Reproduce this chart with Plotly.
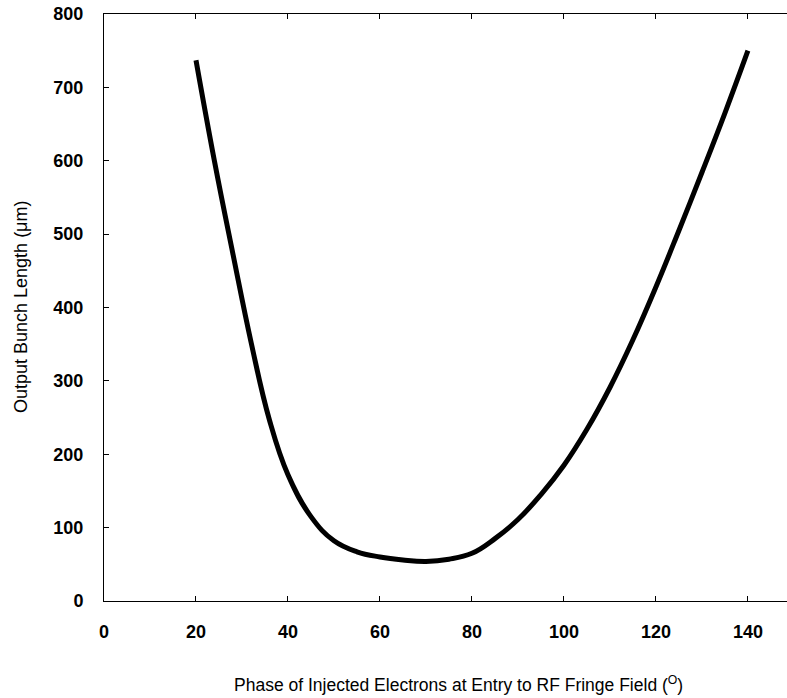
import plotly.graph_objects as go

phase_deg = [20, 24, 28, 32, 36, 40, 45, 50, 55, 60, 65, 70, 75, 80, 85, 90, 95,
             100, 105, 110, 115, 120, 125, 130, 135, 140]
bunch_len_um = [737, 600, 474, 352, 246, 172, 115, 82, 67, 60, 56, 54, 57, 65, 85,
                111, 145, 185, 234, 291, 356, 428, 505, 584, 665, 750]

x_ticks = [0, 20, 40, 60, 80, 100, 120, 140]
y_ticks = [0, 100, 200, 300, 400, 500, 600, 700, 800]

FONT = "Liberation Sans, Arial, sans-serif"

fig = go.Figure()
fig.add_trace(go.Scatter(
    x=phase_deg, y=bunch_len_um, mode="lines",
    line=dict(color="black", width=5, shape="spline", smoothing=1.2),
    showlegend=False, hoverinfo="skip"))

pw = 787 - 104
ph = 698 - 14 - 97

fig.update_layout(
    width=787, height=698,
    margin=dict(l=104, r=0, t=14, b=97),
    paper_bgcolor="white", plot_bgcolor="white",
    font=dict(family=FONT, color="black", size=16),
    xaxis=dict(
        range=[0, 148.5], tickvals=x_ticks, ticks="inside", ticklen=5,
        tickwidth=1, tickcolor="black", showline=True, linecolor="black",
        linewidth=1, mirror="ticks", showgrid=False, zeroline=False,
        tickfont=dict(size=18, family=FONT, weight="bold"),
        ticklabelstandoff=14),
    yaxis=dict(
        range=[0, 800], tickvals=y_ticks, ticks="inside", ticklen=5,
        tickwidth=1, tickcolor="black", showline=True, linecolor="black",
        linewidth=1, showgrid=False, zeroline=False,
        tickfont=dict(size=18, family=FONT, weight="bold"),
        ticklabelstandoff=16),
    annotations=[
        dict(text="Phase of Injected Electrons at Entry to RF Fringe Field (<sup>O</sup>)",
             x=(458 - 104) / pw, y=(601 - 684) / ph, xref="paper", yref="paper",
             xanchor="center", yanchor="middle", showarrow=False,
             font=dict(size=17.5, family=FONT)),
        dict(text="Output Bunch Length (\u03bcm)", textangle=-90,
             x=(21 - 104) / pw, y=(601 - 307) / ph, xref="paper", yref="paper",
             xanchor="center", yanchor="middle", showarrow=False,
             font=dict(size=18, family=FONT)),
    ],
)

fig.write_html("out.html")
